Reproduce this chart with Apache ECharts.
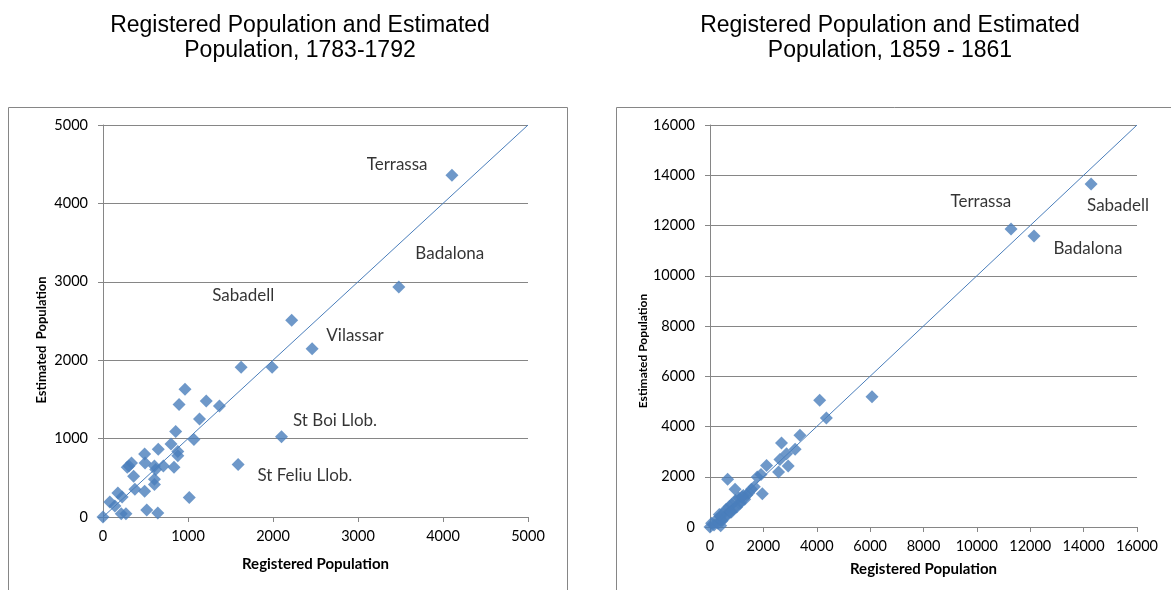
<!DOCTYPE html>
<html>
<head>
<meta charset="utf-8">
<script src="https://cdn.jsdelivr.net/npm/echarts@6/dist/echarts.min.js"></script>
<style>
    html, body { margin: 0; padding: 0; background: #fff; }
    #chart { width: 1171px; height: 590px; }
</style>
</head>
<body>
<div id="chart"></div>
<script>
// 1783-1792: [registered, estimated]
const early = [
    [0, 0], [80, 190], [175, 305], [225, 255], [140, 140], [215, 40], [270, 40],
    [515, 90], [645, 50], [1015, 250], [305, 650], [335, 690], [285, 635],
    [360, 520], [375, 355], [490, 330], [490, 805], [495, 690], [605, 650],
    [710, 650], [835, 635], [620, 605], [605, 480], [605, 415], [650, 865],
    [800, 930], [880, 835], [880, 780], [855, 1090], [1070, 990], [1135, 1250],
    [895, 1435], [965, 1630], [1215, 1480], [1370, 1415], [1625, 1910],
    [1990, 1910], [2220, 2510], [2460, 2145], [2100, 1025], [1590, 670],
    [3480, 2935], [4105, 4360]
];
// 1859-1861: [registered, estimated]
const late = [
    [14280, 13650], [11280, 11860], [12140, 11580], [6070, 5180], [4110, 5040],
    [4360, 4340], [3370, 3650], [2680, 3340], [3190, 3090], [2870, 2920],
    [2620, 2690], [2930, 2430], [2570, 2190], [2120, 2450], [1910, 2090],
    [1770, 1990], [660, 1900], [940, 1500], [1960, 1320], [1660, 1600],
    [1380, 1270], [1120, 940],
    [0, 0], [60, 150], [150, 80], [250, 300], [300, 150], [380, 420], [420, 280],
    [400, 50], [500, 550], [560, 380], [600, 700], [650, 520], [720, 820],
    [760, 600], [820, 900], [880, 720], [950, 1050], [1000, 800], [1080, 1150],
    [1150, 1000], [1250, 1250], [1300, 1100], [1450, 1350], [1550, 1500],
    [1200, 1200], [800, 600], [450, 250], [350, 500]
];
const earlyLabels = [
    ['Terrassa', 3460, 4500], ['Badalona', 4080, 3355], ['Sabadell', 1650, 2830],
    ['Vilassar', 2965, 2310], ['St Boi Llob.', 2730, 1225], ['St Feliu Llob.', 2375, 525]
];
const lateLabels = [
    ['Terrassa', 10150, 12935], ['Sabadell', 15290, 12780], ['Badalona', 14160, 11065]
];
const earlyLine = [[0, 0], [5000, 5000]];
const lateLine = [[0, 0], [16000, 16000]];

const blue = '#4a7ebb';
const tickFont = 'Lato, "Open Sans", sans-serif';

const xAxisOf = (gridIndex, max, interval, gap) => ({
    gridIndex: gridIndex,
    type: 'value',
    min: 0,
    max: max,
    interval: interval,
    name: 'Registered Population',
    nameLocation: 'middle',
    nameGap: gap,
    nameTextStyle: { fontFamily: tickFont, fontWeight: 'bold', fontSize: 15, color: '#000' },
    axisLine: { lineStyle: { color: '#868686' } },
    axisTick: { show: true, length: 5, lineStyle: { color: '#868686' } },
    axisLabel: { color: '#000', fontFamily: tickFont, fontSize: 14.5, margin: 12, formatter: v => String(v) },
    splitLine: { show: false }
});

const yAxisOf = (gridIndex, max, interval, gap, nameSize, shift) => ({
    gridIndex: gridIndex,
    type: 'value',
    min: 0,
    max: max,
    interval: interval,
    name: gridIndex === 0 ? 'Estimated  Population' : 'Estimated Population',
    nameLocation: 'middle',
    nameGap: gap,
    nameTextStyle: {
        fontFamily: tickFont, fontWeight: 'bold', fontSize: nameSize, color: '#000',
        padding: [0, shift, 0, 0]
    },
    axisLine: { show: true, lineStyle: { color: '#868686' } },
    axisTick: { show: true, length: 5, lineStyle: { color: '#868686' } },
    axisLabel: { color: '#000', fontFamily: tickFont, fontSize: 14.5, margin: 15, formatter: v => String(v) },
    splitLine: { show: true, lineStyle: { color: '#868686', width: 1 } }
});

const labelSeries = (idx, list) => ({
    type: 'scatter',
    xAxisIndex: idx,
    yAxisIndex: idx,
    symbolSize: 1,
    itemStyle: { color: 'rgba(0,0,0,0)' },
    silent: true,
    data: list.map(d => ({ name: d[0], value: [d[1], d[2]] })),
    label: {
        show: true,
        position: 'inside',
        formatter: p => p.name,
        color: '#000',
        fontFamily: tickFont,
        fontSize: 17
    },
    z: 5
});

const titleStyle = {
    fontFamily: '"Liberation Sans", Arial',
    fontWeight: 'normal',
    fontSize: 23,
    lineHeight: 25,
    color: '#000'
};

const option = {
    animation: false,
    backgroundColor: '#fff',
    title: [
        {
            text: 'Registered Population and Estimated\nPopulation, 1783-1792',
            left: 295, top: 8, textAlign: 'center',
            textStyle: titleStyle
        },
        {
            text: 'Registered Population and Estimated\nPopulation, 1859 - 1861',
            left: 885, top: 8, textAlign: 'center',
            textStyle: titleStyle
        }
    ],
    graphic: [
        { type: 'rect', shape: { x: 8.5, y: 107.5, width: 559, height: 500 }, style: { fill: null, stroke: '#868686', lineWidth: 1 }, z: -1 },
        { type: 'rect', shape: { x: 616.5, y: 107.5, width: 600, height: 500 }, style: { fill: null, stroke: '#868686', lineWidth: 1 }, z: -1 }
    ],
    grid: [
        { left: 103, top: 125, width: 425, height: 392 },
        { left: 710, top: 125, width: 427, height: 402 }
    ],
    xAxis: [xAxisOf(0, 5000, 1000, 40), xAxisOf(1, 16000, 2000, 35)],
    yAxis: [yAxisOf(0, 5000, 1000, 55, 13, 38), yAxisOf(1, 16000, 2000, 58, 12, 50)],
    series: [
        {
            type: 'line', xAxisIndex: 0, yAxisIndex: 0, data: earlyLine,
            symbol: 'none', lineStyle: { color: blue, width: 1 }, z: 2
        },
        {
            type: 'scatter', xAxisIndex: 0, yAxisIndex: 0, data: early,
            symbol: 'diamond', symbolSize: 13, itemStyle: { color: blue }, z: 3
        },
        labelSeries(0, earlyLabels),
        {
            type: 'line', xAxisIndex: 1, yAxisIndex: 1, data: lateLine,
            symbol: 'none', lineStyle: { color: blue, width: 1 }, z: 2
        },
        {
            type: 'scatter', xAxisIndex: 1, yAxisIndex: 1, data: late,
            symbol: 'diamond', symbolSize: 13, itemStyle: { color: blue }, z: 3
        },
        labelSeries(1, lateLabels)
    ]
};

const myChart = echarts.init(document.getElementById('chart'));
option && myChart.setOption(option);
</script>
</body>
</html>
